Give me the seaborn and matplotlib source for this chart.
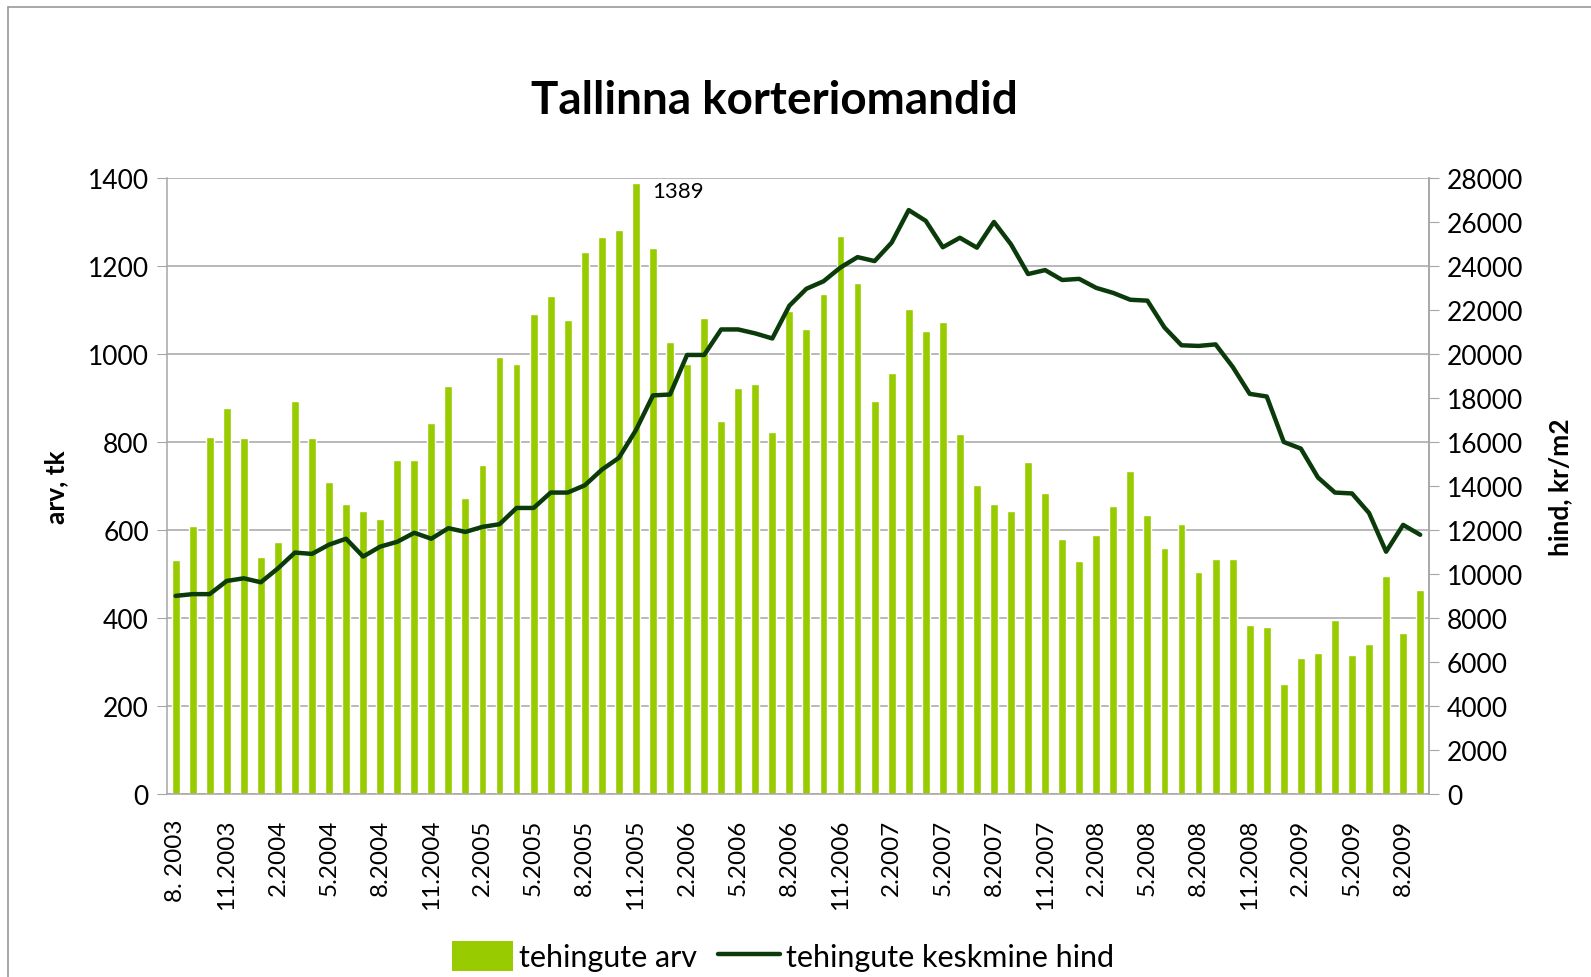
import numpy as np
import pandas as pd
import matplotlib
matplotlib.use("Agg")
import matplotlib.pyplot as plt
from matplotlib.lines import Line2D
from matplotlib.patches import Patch
import seaborn as sns

# kuud 8.2003 ... 9.2009
start_year, start_month, n_months = 2003, 8, 74

# tehingute arv (tk)
deals = [530, 608, 810, 877, 808, 538, 572, 892, 808, 708, 658, 642,
         624, 758, 758, 843, 926, 672, 747, 993, 977, 1090, 1131, 1076,
         1231, 1265, 1281, 1389, 1240, 1026, 977, 1081, 847, 922, 931, 822,
         1097, 1056, 1136, 1269, 1161, 892, 956, 1101, 1051, 1072, 818, 702,
         658, 642, 754, 684, 579, 529, 588, 654, 733, 633, 558, 613,
         504, 534, 534, 384, 379, 250, 308, 320, 394, 315, 340, 495,
         366, 462]

# tehingute keskmine hind (kr/m2)
price = [8990, 9070, 9070, 9670, 9790, 9610, 10240, 10960, 10900, 11320, 11590, 10780,
         11230, 11450, 11860, 11590, 12070, 11900, 12130, 12250, 12990, 12990, 13690, 13690,
         14020, 14730, 15270, 16530, 18110, 18150, 19950, 19950, 21110, 21110, 20930, 20700,
         22190, 22960, 23300, 23930, 24400, 24220, 25060, 26540, 26050, 24850, 25280, 24830,
         26000, 24980, 23630, 23810, 23360, 23410, 23000, 22770, 22460, 22420, 21200, 20390,
         20360, 20430, 19410, 18180, 18060, 15990, 15690, 14380, 13690, 13650, 12760, 11000,
         12220, 11770]

months = []
for i in range(n_months):
    m = (start_month - 1 + i) % 12 + 1
    y = start_year + (start_month - 1 + i) // 12
    months.append(f"{m}.{y}")
months[0] = "8. 2003"

df = pd.DataFrame({"kuu": months, "arv": deals, "hind": price})
df["pos"] = np.arange(len(df))

sns.set_style("white")
plt.rcParams["font.family"] = ["Lato", "DejaVu Sans"]
plt.rcParams["text.color"] = "black"
plt.rcParams["axes.labelcolor"] = "black"
plt.rcParams["xtick.color"] = "black"
plt.rcParams["ytick.color"] = "black"

bar_color = "#99CC00"
line_color = "#0B3B0B"
grid_color = "#A6A6A6"

fig = plt.figure(figsize=(15.91, 9.78), dpi=100)
ax = fig.add_axes([0.105, 0.1876, 0.793, 0.6294])

sns.barplot(data=df, x="kuu", y="arv", color=bar_color, saturation=1,
            width=0.46, ax=ax, zorder=2)
ax.set_ylim(0, 1400)
ax.set_xlim(-0.5, len(df) - 0.5)
ax.set_yticks(np.arange(0, 1401, 200))
ax.yaxis.grid(True, color=grid_color, linewidth=1.1)
ax.set_axisbelow(True)
ax.set_xlabel("")
ax.set_ylabel("arv, tk", fontsize=19, fontweight="bold", labelpad=14)

ax.set_xticks(np.arange(0, len(df), 3))
ax.set_xticklabels(months[::3], rotation=90, fontsize=17.5)
ax.set_xticks(np.arange(-0.5, len(df), 1), minor=True)
ax.tick_params(axis="x", which="major", length=0, pad=18)
ax.tick_params(axis="x", which="minor", length=7, color=grid_color, width=1)
ax.tick_params(axis="y", labelsize=19, length=7, color=grid_color, direction="out", pad=6)
ax.yaxis.set_ticks_position("left")

ax.spines["top"].set_visible(False)
for side in ["left", "bottom", "right"]:
    ax.spines[side].set_color(grid_color)
    ax.spines[side].set_linewidth(1.1)

ax.annotate("1389", xy=(27, 1389), xytext=(12, -6), textcoords="offset points",
            fontsize=16, va="center", ha="left")

ax2 = ax.twinx()
sns.lineplot(data=df, x="pos", y="hind", color=line_color, linewidth=3.2, ax=ax2)
ax2.set_ylim(0, 28000)
ax2.set_yticks(np.arange(0, 28001, 2000))
ax2.set_ylabel("hind, kr/m2", fontsize=19, fontweight="bold", labelpad=18)
ax2.tick_params(axis="y", labelsize=19, length=7, color=grid_color, direction="out", pad=6)
ax2.set_xlabel("")
for side in ["top", "left", "bottom"]:
    ax2.spines[side].set_visible(False)
ax2.spines["right"].set_color(grid_color)
ax2.spines["right"].set_linewidth(1.1)
ax2.set_xlim(-0.5, len(df) - 0.5)

fig.suptitle("Tallinna korteriomandid", x=0.487, y=0.918, fontsize=33, fontweight="bold")

handles = [Patch(facecolor=bar_color, edgecolor="none"),
           Line2D([0], [0], color=line_color, linewidth=3.2)]
fig.legend(handles, ["tehingute arv", "tehingute keskmine hind"], loc="center",
           bbox_to_anchor=(0.492, 0.021), ncol=2, frameon=False, fontsize=22,
           handlelength=2.0, handleheight=1.1, handletextpad=0.2, columnspacing=0.7)

# raam ümber graafiku
fig.add_artist(Line2D([0.005, 1.0], [0.992, 0.992], color="#9A9A9A", linewidth=1.2))
fig.add_artist(Line2D([0.005, 0.005], [0.0, 0.992], color="#9A9A9A", linewidth=1.2))

fig.savefig("out.png", dpi=100)
